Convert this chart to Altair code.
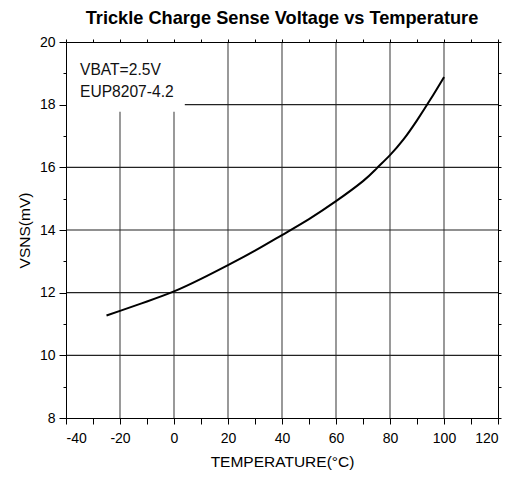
import altair as alt
import pandas as pd

# ---- data ----
temps = [-25, -20, -10, 0, 10, 20, 30, 40, 50, 60, 70, 75, 80, 85, 90, 95, 100]
vsns = [11.27, 11.42, 11.72, 12.04, 12.44, 12.88, 13.34, 13.84, 14.35, 14.92, 15.56,
        15.96, 16.39, 16.89, 17.50, 18.17, 18.88]

x_gridlines = [-20, 0, 20, 40, 60, 80, 100]
y_gridlines = [10, 12, 14, 16, 18]

x_ticks = list(range(-40, 121, 10))
y_ticks = list(range(8, 21, 1))

note_lines = ["VBAT=2.5V", "EUP8207-4.2"]
note_x = [-34.8, -34.8]
note_y = [18.95, 18.24]

box_x = [-40]
box_x2 = [4]
box_y = [17.77]
box_y2 = [20]

FONT = "Liberation Sans, Arial, sans-serif"

xs = alt.Scale(domain=[-40, 120], nice=False, zero=False)
ys = alt.Scale(domain=[8, 20], nice=False, zero=False)

curve = pd.DataFrame({"t": temps, "v": vsns})
vgrid = pd.DataFrame({"x": x_gridlines})
hgrid = pd.DataFrame({"y": y_gridlines})
notes = pd.DataFrame({"text": note_lines, "x": note_x, "y": note_y})
box = pd.DataFrame({"x": box_x, "x2": box_x2, "y": box_y, "y2": box_y2})

vrules = alt.Chart(vgrid).mark_rule(color="#808080", strokeWidth=1.6).encode(
    x=alt.X("x:Q", scale=xs, axis=None)
)
hrules = alt.Chart(hgrid).mark_rule(color="#222222", strokeWidth=1.1).encode(
    y=alt.Y("y:Q", scale=ys, axis=None)
)
rect = alt.Chart(box).mark_rect(fill="white").encode(
    x=alt.X("x:Q", scale=xs, axis=None),
    x2="x2:Q",
    y=alt.Y("y:Q", scale=ys, axis=None),
    y2="y2:Q",
)
text = alt.Chart(notes).mark_text(
    align="left", baseline="alphabetic", font=FONT, fontSize=15.6, color="#111111"
).encode(
    x=alt.X("x:Q", scale=xs, axis=None),
    y=alt.Y("y:Q", scale=ys, axis=None),
    text="text:N",
)

line = alt.Chart(curve).mark_line(
    color="black", strokeWidth=2, interpolate="natural"
).encode(
    x=alt.X(
        "t:Q",
        scale=xs,
        axis=alt.Axis(
            orient="bottom",
            values=x_ticks,
            labelExpr="datum.value % 20 == 0 ? toString(datum.value) : ''",
            tickSize=6,
            labelPadding=7,
            labelFontSize=14,
            labelFont=FONT,
            labelColor="black",
            title="TEMPERATURE(°C)",
            titleFont=FONT,
            titleFontSize=15.5,
            titleFontWeight="normal",
            titleColor="black",
            titlePadding=9,
            grid=False,
            domainColor="black",
            tickColor="black",
            zindex=1,
        ),
    ),
    y=alt.Y(
        "v:Q",
        scale=ys,
        axis=alt.Axis(
            orient="left",
            values=y_ticks,
            labelExpr="datum.value % 2 == 0 ? toString(datum.value) : ''",
            tickSize={"condition": {"test": "datum.value % 2 == 0", "value": 7}, "value": 3},
            labelPadding=4,
            labelFontSize=14,
            labelFont=FONT,
            labelColor="black",
            title="VSNS(mV)",
            titleFont=FONT,
            titleFontSize=15.5,
            titleFontWeight="normal",
            titleColor="black",
            titlePadding=7,
            grid=False,
            domainColor="black",
            tickColor="black",
            zindex=1,
        ),
    ),
)

frame = alt.Chart(curve).mark_line(opacity=0).encode(
    x=alt.X(
        "t:Q",
        scale=xs,
        axis=alt.Axis(
            orient="top", values=x_ticks, labels=False, title=None, tickSize=3,
            grid=False, domainColor="black", tickColor="black", zindex=1,
        ),
    ),
    y=alt.Y(
        "v:Q",
        scale=ys,
        axis=alt.Axis(
            orient="right", values=y_ticks, labels=False, title=None, tickSize=3,
            grid=False, domainColor="black", tickColor="black", zindex=1,
        ),
    ),
)

chart = (
    alt.layer(vrules, hrules, rect, text, line, frame)
    .resolve_axis(x="independent", y="independent")
    .properties(
        width=432,
        height=376,
        autosize=alt.AutoSizeParams(type="none"),
        padding={"left": 58, "top": 34, "right": 12, "bottom": 53},
        title=alt.TitleParams(
            "Trickle Charge Sense Voltage vs Temperature",
            font=FONT,
            fontSize=18.2,
            fontWeight="bold",
            color="black",
            anchor="middle",
            offset=7,
        ),
    )
    .configure_view(stroke=None)
    .configure(background="white")
)

chart.save("out.html", embed_options={"renderer": "svg", "actions": False})
